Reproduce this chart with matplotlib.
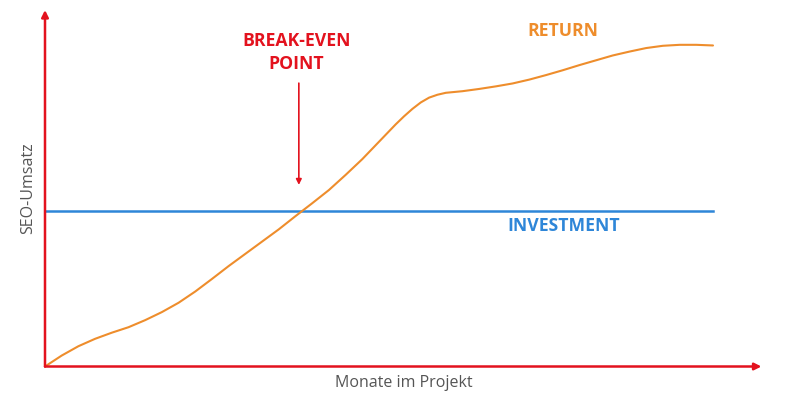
import matplotlib
matplotlib.use("Agg")
import matplotlib.pyplot as plt

# Months and return values (arbitrary units)
months = [0, 0.5, 1, 1.5, 2, 2.5, 3, 3.5, 4, 4.5,
          5, 5.5, 6, 6.5, 7, 7.5, 8, 8.5, 9, 9.5,
          10, 10.5, 10.75, 11, 11.25, 11.5, 11.75, 12, 12.5, 13, 13.5, 14, 14.5,
          15, 15.5, 16, 16.5, 17, 17.5, 18, 18.5, 19, 19.5, 20]
return_values = [0, 3.4, 6.3, 8.6, 10.5, 12.2, 14.4, 16.9, 19.8, 23.3,
                 27.2, 31.2, 35.0, 38.8, 42.6, 46.7, 50.7, 54.8, 59.5, 64.4,
                 69.8, 75.2, 77.7, 80.0, 82.0, 83.5, 84.4, 85.0, 85.5, 86.2, 87.0, 87.9, 89.1,
                 90.5, 92.0, 93.6, 95.1, 96.6, 97.8, 98.9, 99.6, 99.9, 99.9, 99.7]
investment_level = 48.4
investment_months = [0, 20]
break_even_month = 7.6

RED = "#e3121e"
ORANGE = "#ee8d2c"
BLUE = "#2e86d8"
GRAY = "#555555"

plt.rcParams['font.family'] = ['Open Sans', 'DejaVu Sans']

fig = plt.figure(figsize=(8, 4.04), dpi=100)
ax = fig.add_axes([0, 0, 1, 1])
ax.set_xlim(-45 / 33.4, 755 / 33.4)
ax.set_ylim((366.5 - 404) / 3.22, 366.5 / 3.22)
ax.axis('off')

# Investment line
ax.plot(investment_months, [investment_level] * 2, color=BLUE, lw=1.8, zorder=2)
# Return curve
ax.plot(months, return_values, color=ORANGE, lw=1.5, zorder=3,
        solid_joinstyle='round', solid_capstyle='round')

# Axes with arrows
ax.annotate("", xy=(21.45, 0), xytext=(0, 0),
            arrowprops=dict(arrowstyle='-|>', color=RED, lw=1.8, mutation_scale=10,
                            shrinkA=0, shrinkB=0), zorder=4)
ax.annotate("", xy=(0, 110.7), xytext=(0, 0),
            arrowprops=dict(arrowstyle='-|>', color=RED, lw=1.8, mutation_scale=10,
                            shrinkA=0, shrinkB=0), zorder=4)

# Break-even arrow
ax.annotate("", xy=(break_even_month, 56.4), xytext=(break_even_month, 88.0),
            arrowprops=dict(arrowstyle='-|>', color=RED, lw=1.2, mutation_scale=8,
                            shrinkA=0, shrinkB=0))

ax.text(7.53, 101.1, "BREAK-EVEN", color=RED, fontsize=12.7, fontweight='bold',
        ha='center', va='center')
ax.text(7.53, 93.9, "POINT", color=RED, fontsize=12.7, fontweight='bold',
        ha='center', va='center')
ax.text(15.52, 104.2, "RETURN", color=ORANGE, fontsize=12.7, fontweight='bold',
        ha='center', va='center')
ax.text(15.52, 43.6, "INVESTMENT", color=BLUE, fontsize=12.7, fontweight='bold',
        ha='center', va='center')

ax.text(10.73, -5.1, "Monate im Projekt", color=GRAY, fontsize=11.5,
        ha='center', va='center')
ax.text(-0.51, 55.4, "SEO-Umsatz", color=GRAY, fontsize=11.5, rotation=90,
        ha='center', va='center')

fig.savefig("out.png", dpi=100)
